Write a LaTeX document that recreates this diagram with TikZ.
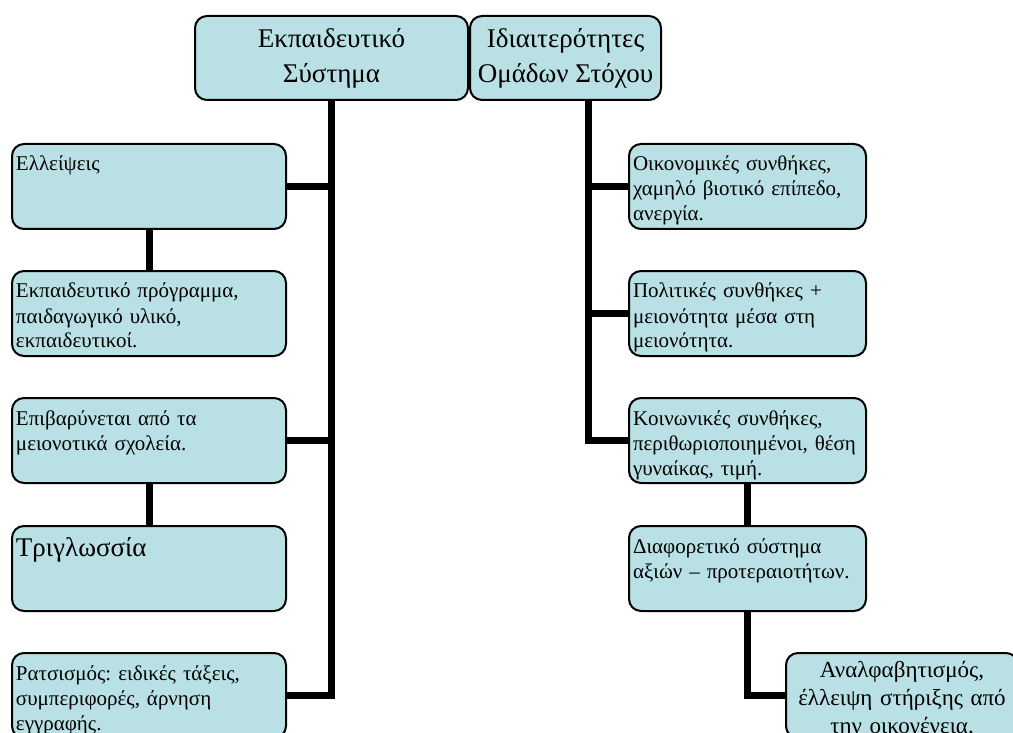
\documentclass[tikz,border=0pt]{standalone}
\usepackage{fontspec}
\setmainfont{Liberation Serif}
\frenchspacing
\definecolor{boxfill}{RGB}{185,224,228}
\tikzstyle{head}=[draw,line width=2pt,rounded corners=12pt,fill=boxfill,align=center,minimum height=84pt,inner sep=0pt,font=\fontsize{27}{35}\selectfont]
\tikzstyle{leaf}=[draw,line width=2pt,rounded corners=12pt,fill=boxfill,anchor=north west,align=left,inner xsep=4pt,inner ysep=4pt,text height=23pt,text depth=54pt,font=\fontsize{21}{25}\selectfont]
\tikzstyle{link}=[line width=7pt]

\begin{document}
\begin{tikzpicture}[x=1pt,y=-1pt]
\useasboundingbox (0,0) rectangle (1013,733);
\clip (0,0) rectangle (1013,733);
\node[head,minimum width=273pt] at (331.5,58) (sys) {Εκπαιδευτικό\\Σύστημα};
\node[head,minimum width=191pt] at (565.5,58) (grp) {Ιδιαιτερότητες\\Ομάδων Στόχου};
% left branch
\node[leaf,text width=266pt] at (11,143) (ell) {Ελλείψεις};
\node[leaf,text width=266pt] at (11,270) (prog) {Εκπαιδευτικό πρόγραμμα,\\παιδαγωγικό υλικό,\\εκπαιδευτικοί.};
\node[leaf,text width=266pt] at (11,397) (bur) {Επιβαρύνεται από τα\\μειονοτικά σχολεία.};
\node[leaf,text width=266pt,text height=26pt,text depth=51pt,font=\fontsize{27}{30}\selectfont] at (11,525) (tri) {Τριγλωσσία};
\node[leaf,text width=266pt] at (11,652) (rac) {Ρατσισμός: ειδικές τάξεις,\\συμπεριφορές, άρνηση\\εγγραφής.};
% right branch
\node[leaf,text width=229pt] at (628,143) (eco) {Οικονομικές συνθήκες,\\χαμηλό βιοτικό επίπεδο,\\ανεργία.};
\node[leaf,text width=229pt] at (628,270) (pol) {Πολιτικές συνθήκες +\\μειονότητα μέσα στη\\μειονότητα.};
\node[leaf,text width=229pt] at (628,397) (soc) {Κοινωνικές συνθήκες,\\περιθωριοποιημένοι, θέση\\γυναίκας, τιμή.};
\node[leaf,text width=229pt] at (628,525) (dif) {Διαφορετικό σύστημα\\αξιών – προτεραιοτήτων.};
\node[leaf,text width=224pt,align=center,text height=20pt,text depth=57pt,font=\fontsize{23}{28}\selectfont] at (785,652) (ill) {Αναλφαβητισμός,\\έλλειψη στήριξης από\\την οικογένεια.};
\coordinate (rt) at (588,0);
% connectors
\draw[link] (sys.south) -- (sys.south |- rac.east) -- (rac.east);
\draw[link] (ell.east) -- (ell.east -| sys.south);
\draw[link] (bur.east) -- (bur.east -| sys.south);
\draw[link] (ell.south) -- (prog.north);
\draw[link] (bur.south) -- (tri.north);
\draw[link] (grp.south -| rt) -- (rt |- soc.west) -- (soc.west);
\draw[link] (eco.west) -- (eco.west -| rt);
\draw[link] (pol.west) -- (pol.west -| rt);
\draw[link] (soc.south) -- (dif.north);
\draw[link] (dif.south) |- (ill.west);
\end{tikzpicture}
\end{document}
